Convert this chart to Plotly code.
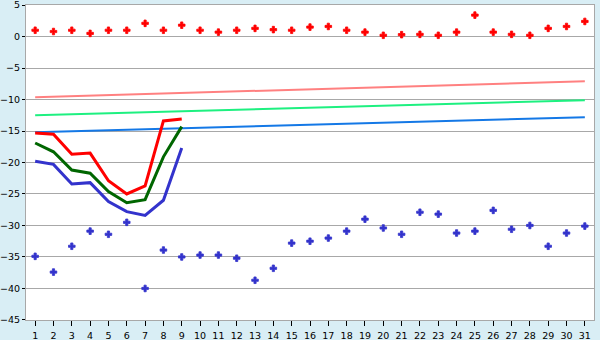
import plotly.graph_objects as go

days = list(range(1, 32))

# daily red markers (upper)
red_pts = [1.0, 0.8, 1.0, 0.5, 1.0, 1.0, 2.1, 1.0, 1.8, 1.0,
           0.7, 1.0, 1.3, 1.1, 1.0, 1.5, 1.6, 1.0, 0.7, 0.2,
           0.3, 0.35, 0.2, 0.7, 3.4, 0.7, 0.35, 0.2, 1.3, 1.6, 2.4]
# daily blue markers (lower)
blue_pts = [-34.9, -37.4, -33.3, -30.9, -31.4, -29.5, -40.0, -33.9, -35.0, -34.7,
            -34.7, -35.2, -38.7, -36.8, -32.8, -32.5, -32.0, -30.9, -29.0, -30.4,
            -31.4, -27.9, -28.2, -31.2, -30.9, -27.6, -30.6, -30.0, -33.3, -31.2, -30.1]

# curves for days 1-9
curve_days = list(range(1, 10))
red_curve = [-15.3, -15.5, -18.7, -18.5, -22.9, -25.0, -23.7, -13.4, -13.1]
green_curve = [-16.9, -18.3, -21.2, -21.7, -24.6, -26.4, -25.9, -19.1, -14.3]
blue_curve = [-19.8, -20.3, -23.4, -23.2, -26.2, -27.8, -28.4, -26.0, -17.7]

# straight reference lines (start day, end day)
ref_days = [1, 31]
pink_ref = [-9.65, -7.1]
green_ref = [-12.5, -10.1]
blue_ref = [-15.2, -12.8]

y_ticks = [5, 0, -5, -10, -15, -20, -25, -30, -35, -40, -45]

fig = go.Figure()

fig.add_trace(go.Scatter(x=ref_days, y=pink_ref, mode="lines",
                         line=dict(color="#FF8080", width=2)))
fig.add_trace(go.Scatter(x=ref_days, y=green_ref, mode="lines",
                         line=dict(color="#1EF080", width=2)))
fig.add_trace(go.Scatter(x=ref_days, y=blue_ref, mode="lines",
                         line=dict(color="#1478E6", width=2)))

fig.add_trace(go.Scatter(x=curve_days, y=red_curve, mode="lines",
                         line=dict(color="#FF0000", width=3)))
fig.add_trace(go.Scatter(x=curve_days, y=green_curve, mode="lines",
                         line=dict(color="#006600", width=3)))
fig.add_trace(go.Scatter(x=curve_days, y=blue_curve, mode="lines",
                         line=dict(color="#3333CC", width=3)))

fig.add_trace(go.Scatter(x=days, y=red_pts, mode="markers",
                         marker=dict(symbol="cross", size=5.5, color="#FF0000",
                                     line=dict(width=0.8, color="#FF0000"))))
fig.add_trace(go.Scatter(x=days, y=blue_pts, mode="markers",
                         marker=dict(symbol="cross", size=5.5, color="#3333CC",
                                     line=dict(width=0.8, color="#3333CC"))))

grid = "#A8A8A8"
fig.update_layout(
    width=600, height=340,
    margin=dict(l=26, r=6, t=5, b=20),
    paper_bgcolor="#D9EEF5",
    plot_bgcolor="#FFFFFF",
    showlegend=False,
    font=dict(family="DejaVu Sans", size=9.5, color="#000000"),
    xaxis=dict(range=[0.5, 31.5], tickmode="array", tickvals=days,
               ticktext=[str(d) for d in days], automargin=False,
               ticklabelstandoff=2,
               showgrid=False, zeroline=False,
               showline=True, linecolor=grid, linewidth=1, mirror=True,
               ticks="outside", ticklen=5, tickcolor="#000000", tickwidth=1),
    yaxis=dict(range=[-45.01, 5.01], tickmode="array", tickvals=y_ticks,
               automargin=False, ticklabeloverflow="allow",
               showgrid=True, gridcolor=grid, gridwidth=1,
               zeroline=True, zerolinecolor=grid, zerolinewidth=1,
               showline=True, linecolor=grid, linewidth=1, mirror=True,
               ticks="outside", ticklen=3, tickcolor="#000000", tickwidth=1),
)

fig.write_html("out.html")
